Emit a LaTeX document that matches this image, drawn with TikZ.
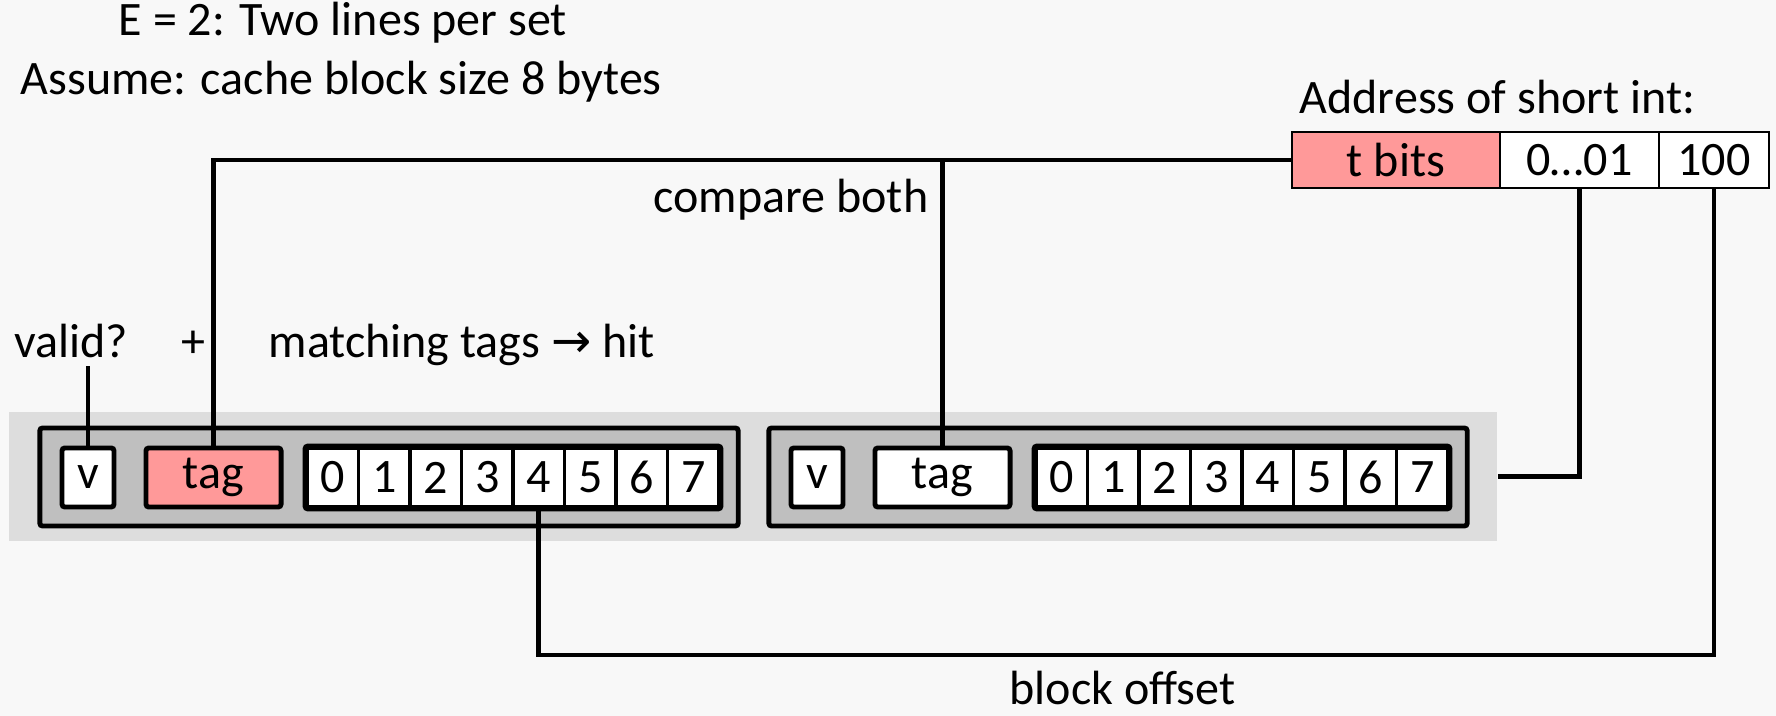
\documentclass[tikz,border=0pt]{standalone}
\usepackage{fontspec}
\setmainfont{Carlito}
\newfontfamily\arrowfont{DejaVu Sans}
\definecolor{slidebg}{HTML}{F8F8F8}
\definecolor{setband}{HTML}{DDDDDD}
\definecolor{linegray}{HTML}{BFBFBF}
\definecolor{tagpink}{HTML}{FF9999}

\begin{document}
\begin{tikzpicture}[x=0.01cm,y=-0.01cm,
    font=\fontsize{13.66}{16}\selectfont,
    txt/.style={inner xsep=0pt,inner ysep=0.07cm},
    linebox/.style={draw,line width=1.4pt,fill=linegray,minimum width=6.98cm,minimum height=0.98cm,inner sep=0pt,rounded corners=0.8pt},
    field/.style={draw,line width=1.4pt,minimum height=0.59cm,inner sep=0pt,rounded corners=0.8pt},
    cell/.style={draw,line width=1.1pt,fill=white,minimum width=0.515cm,minimum height=0.59cm,inner sep=0pt},
    addr/.style={draw,line width=0.6pt,fill=white,minimum height=0.56cm,inner sep=0pt},
    wire/.style={line width=1.3pt}]
        \useasboundingbox (0,0) rectangle (1776,716);
        \fill[slidebg] (0,0) rectangle (1776,716);

        % The set: two lines
        \node[fill=setband,minimum width=14.88cm,minimum height=1.29cm,inner sep=0pt] (band) at (753,476.5) {};
        \foreach \n/\cx/\tagfill in {1/389/tagpink, 2/1118/white} {
            \node[linebox] (line\n) at (\cx,477) {};
            \node[field,fill=white,minimum width=0.52cm] (v\n) at (\cx-301,477.5) {v};
            \node[field,fill=\tagfill,minimum width=1.35cm] (tag\n) at (\cx-175.5,477.5) {tag};
            \foreach \i in {0,...,7}
                \node[cell] (b\n-\i) at (\cx-56.25+51.5*\i,477.5) {\i};
            \draw[line width=1.4pt,rounded corners=0.8pt] (b\n-0.north west) rectangle (b\n-7.south east);
        }

        % Address
        \node[txt,anchor=base west] (addrlbl) at (1299,114) {Address of short int:};
        \node[addr,fill=tagpink,minimum width=2.08cm] (tbits) at (1396,160) {t bits};
        \node[addr,minimum width=1.59cm] (setidx) at (1579.5,160) {0…01};
        \node[addr,minimum width=1.10cm] (offs) at (1714,160) {100};

        % Labels
        \node[txt,anchor=base west] (title) at (118,36) {E = 2: Two lines per set};
        \node[txt,anchor=base west] (assume) at (20,95) {Assume: cache block size 8 bytes};
        \node[txt,anchor=base east] (cmp) at (929,213) {compare both};
        \node[txt,anchor=base west] (valid) at (14,358) {valid?};
        \node[txt,anchor=base] (plus) at (193,358) {+};
        \node[txt,anchor=base west] (match) at (268,358) {matching tags {\arrowfont →} hit};
        \node[txt,anchor=base west] (offlbl) at (1009,705) {block offset};
        \coordinate (botrun) at (0,655);

        % Edges
        \draw[wire] (tbits.west) -| (tag1.north);
        \draw[wire] (tag2.north) -- (tag2.north |- tbits.west);
        \draw[wire] (v1.north) -- (v1.north |- valid.south);
        \draw[wire] (b1-4.south) |- (botrun -| offs.south) -- (offs.south);
        \draw[wire] (band.east) -| (setidx.south);
    \end{tikzpicture}
\end{document}
